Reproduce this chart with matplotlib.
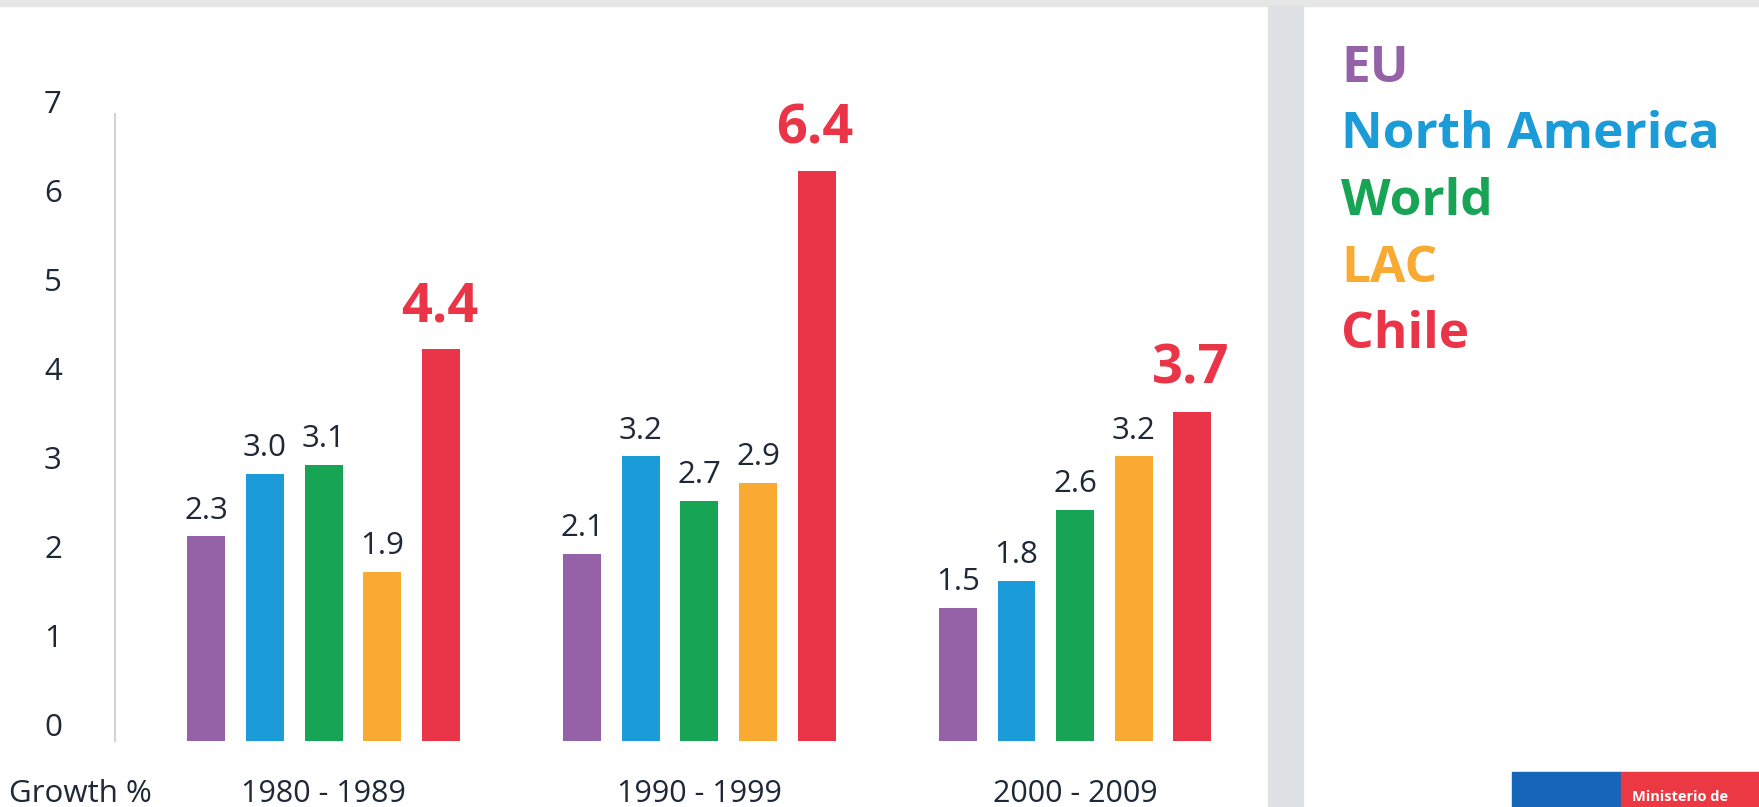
import numpy as np
import matplotlib.pyplot as plt
from matplotlib.patches import Rectangle

plt.rcParams['font.family'] = ['Open Sans', 'DejaVu Sans']

# average growth, % per year
periods = ["1980 - 1989", "1990 - 1999", "2000 - 2009"]
regions = ["EU", "North America", "World", "LAC", "Chile"]
eu = [2.3, 2.1, 1.5]
north_america = [3.0, 3.2, 1.8]
world = [3.1, 2.7, 2.6]
lac = [1.9, 2.9, 3.2]
chile = [4.4, 6.4, 3.7]
series = [eu, north_america, world, lac, chile]
yticks = [0, 1, 2, 3, 4, 5, 6, 7]

colors = ["#9662A7", "#1B9BD7", "#17A455", "#F8AA33", "#E93547"]
text_col = "#1E2836"

W, H = 1759, 807
fig = plt.figure(figsize=(W / 100, H / 100), dpi=100)

def fx(px):
    return px / W

def fy(py):
    return 1 - py / H

# thin strip at the top and the divider band
fig.patches.append(Rectangle((0, fy(6)), 1, 6 / H, transform=fig.transFigure,
                             color="#E6E6E6", zorder=0))
fig.patches.append(Rectangle((fx(1268), 0), 35 / W, fy(6), transform=fig.transFigure,
                             color="#DFE1E4", zorder=0))

ax = fig.add_axes([fx(115.5), fy(741), fx(1260) - fx(115.5), 7.2 * 89 / H])
ax.set_xlim(-0.554, 2.492)
ax.set_ylim(0, 7.2)

x = np.arange(len(periods))
pitch, width = 0.156, 0.101
for i, (vals, c) in enumerate(zip(series, colors)):
    xs = x + (i - 2) * pitch
    ax.bar(xs, vals, width=width, color=c, zorder=2)
    for xx, v in zip(xs, vals):
        if i == 4:
            ax.annotate(f"{v:.1f}", (xx, v), xytext=(-1, 30.5), textcoords="offset points",
                        ha="center", va="center", fontsize=39, fontweight="bold", color=c)
        else:
            ax.annotate(f"{v:.1f}", (xx, v), xytext=(0, 18.5),
                        textcoords="offset points", ha="center", va="center",
                        fontsize=22.5, color=text_col)

for s in ["top", "right", "bottom"]:
    ax.spines[s].set_visible(False)
ax.spines["left"].set_color("#D3D3D3")
ax.spines["left"].set_linewidth(1.5)
ax.spines["left"].set_bounds(0, 7.05)
ax.set_xticks([])
ax.set_yticks([])

for t in yticks:
    ax.annotate(str(t), (0, t), xycoords=ax.get_yaxis_transform(), xytext=(-45, 9.5),
                textcoords="offset points", ha="center", va="center",
                fontsize=22.5, color=text_col, annotation_clip=False)

for gx, p in zip(x, periods):
    ax.annotate(p, (gx, 0), xytext=(0, -43.7), textcoords="offset points",
                ha="center", va="baseline", fontsize=22, color=text_col,
                annotation_clip=False)

fig.text(fx(9), fy(801.7), "Growth %", ha="left", va="baseline", fontsize=22.5,
         color=text_col)

# legend as coloured words
for k, (name, c) in enumerate(zip(regions, colors)):
    fig.text(fx(1341), fy(69 + k * 66.5), name, ha="left", va="center",
             fontsize=37, fontweight="bold", color=c)

# ministry badge in the corner
fig.patches.append(Rectangle((fx(1512), 0), 109 / W, fy(772), transform=fig.transFigure,
                             color="#1565B8", zorder=1))
fig.patches.append(Rectangle((fx(1621), 0), 138 / W, fy(772), transform=fig.transFigure,
                             color="#EC3843", zorder=1))
fig.text(fx(1632), fy(804), "Ministerio de", ha="left", va="bottom", fontsize=10.5,
         fontweight="bold", color="white")

fig.savefig("out.png", dpi=100)
